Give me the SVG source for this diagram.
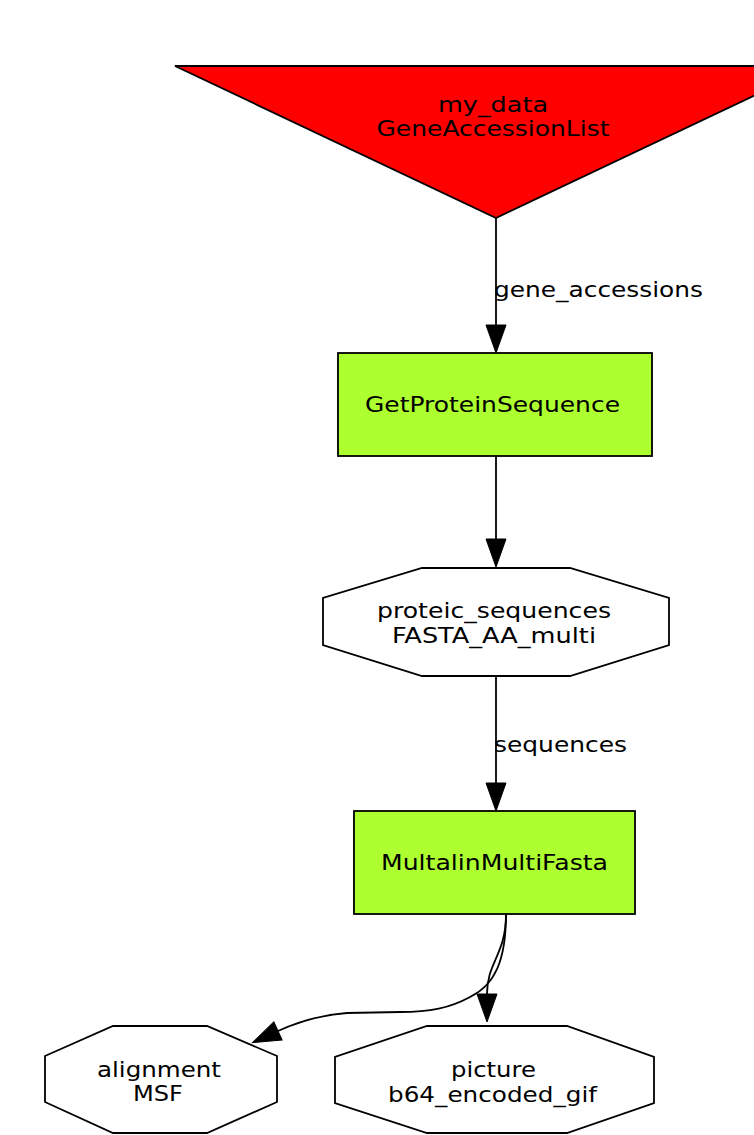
<svg xmlns="http://www.w3.org/2000/svg" width="754" height="1135" viewBox="0 0 754 1135">
<style>
  text { font-family: "DejaVu Sans", "Liberation Sans", sans-serif; font-size: 21px; fill: #000; }
  .c { text-anchor: middle; }
  .shape { stroke: #000; stroke-width: 1.8; }
  .edge { fill: none; stroke: #000; stroke-width: 1.8; }
</style>
<defs>
  <marker id="arrow" markerUnits="userSpaceOnUse" markerWidth="30" markerHeight="22" refX="0" refY="10" orient="auto" viewBox="0 0 30 22" overflow="visible">
    <path d="M0,0 L28,10 L0,20 Z" fill="#000" stroke="#000" stroke-width="1"/>
  </marker>
</defs>
<rect width="754" height="1135" fill="#fff"/>
<g id="edges">
  <path class="edge" d="M496,218 L496,325" marker-end="url(#arrow)"/>
  <text x="494" y="297" textLength="209" lengthAdjust="spacingAndGlyphs">gene_accessions</text>
  <path class="edge" d="M496,456 L496,539" marker-end="url(#arrow)"/>
  <path class="edge" d="M496,676 L496,783" marker-end="url(#arrow)"/>
  <text x="494" y="752" textLength="133" lengthAdjust="spacingAndGlyphs">sequences</text>
  <path class="edge" d="M506,914 C506,955 487,962 487,994" marker-end="url(#arrow)"/>
  <path class="edge" d="M506,914 C506,960 495,985 470,997 C450,1008 430,1012 400,1012 L347,1013 C320,1015 300,1021 278,1031" marker-end="url(#arrow)"/>
</g>
<g id="my_data">
  <polygon class="shape" fill="#ff0000" points="175,66 817,66 496,218"/>
  <text class="c" x="493" y="112" textLength="110" lengthAdjust="spacingAndGlyphs">my_data</text>
  <text class="c" x="493" y="136" textLength="233" lengthAdjust="spacingAndGlyphs">GeneAccessionList</text>
</g>
<g id="GetProteinSequence">
  <rect class="shape" fill="#adff2f" x="338" y="353" width="314" height="103"/>
  <text class="c" x="492.5" y="412" textLength="255" lengthAdjust="spacingAndGlyphs">GetProteinSequence</text>
</g>
<g id="proteic_sequences">
  <polygon class="shape" fill="#fff" points="422,568 570,568 669,598 669,645 570,676 422,676 323,645 323,598"/>
  <text class="c" x="494" y="618" textLength="234" lengthAdjust="spacingAndGlyphs">proteic_sequences</text>
  <text class="c" x="494" y="643" textLength="204" lengthAdjust="spacingAndGlyphs">FASTA_AA_multi</text>
</g>
<g id="MultalinMultiFasta">
  <rect class="shape" fill="#adff2f" x="354" y="811" width="281" height="103"/>
  <text class="c" x="494.5" y="870" textLength="227" lengthAdjust="spacingAndGlyphs">MultalinMultiFasta</text>
</g>
<g id="alignment">
  <polygon class="shape" fill="#fff" points="113,1026 207,1026 277,1056 277,1102 207,1133 113,1133 45,1102 45,1056"/>
  <text class="c" x="159" y="1077" textLength="124" lengthAdjust="spacingAndGlyphs">alignment</text>
  <text class="c" x="158" y="1101" textLength="50" lengthAdjust="spacingAndGlyphs">MSF</text>
</g>
<g id="picture">
  <polygon class="shape" fill="#fff" points="427,1026 567,1026 654,1057 654,1103 567,1133 427,1133 335,1103 335,1057"/>
  <text class="c" x="493.5" y="1077" textLength="85" lengthAdjust="spacingAndGlyphs">picture</text>
  <text class="c" x="492.5" y="1102" textLength="209" lengthAdjust="spacingAndGlyphs">b64_encoded_gif</text>
</g>
</svg>
